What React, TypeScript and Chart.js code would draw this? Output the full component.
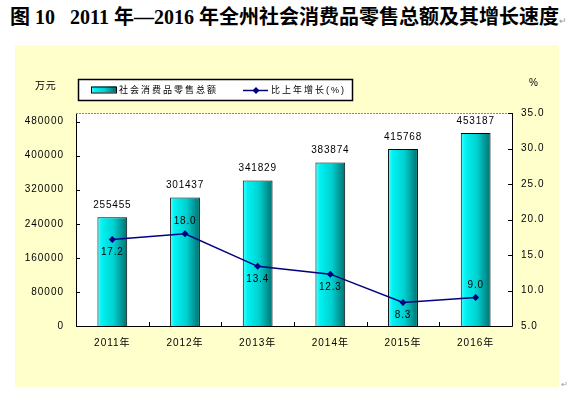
import React, { useEffect, useRef } from "react";
import { Chart, registerables } from "chart.js";

Chart.register(...registerables);

const categories = ["2011年", "2012年", "2013年", "2014年", "2015年", "2016年"];
const salesValues = [255455, 301437, 341829, 383874, 415768, 453187];
const growthValues = [17.2, 18.0, 13.4, 12.3, 8.3, 9.0];
const growthLabelAbove = [false, true, false, false, false, true];
const leftTicks = [0, 80000, 160000, 240000, 320000, 400000, 480000];
const rightTicks = [5, 10, 15, 20, 25, 30, 35];
const seriesNames = ["社会消费品零售总额", "比上年增长(%)"];
const titleText = "图 10\u00a0\u00a0 2011 年—2016 年全州社会消费品零售总额及其增长速度";

const FONT = '"Liberation Sans", "Noto Sans CJK SC", sans-serif';

function barGradient(ctx: any, x0: number, x1: number) {
  const g = ctx.createLinearGradient(x0, 0, x1, 0);
  g.addColorStop(0, "#4DFFFF");
  g.addColorStop(0.15, "#00F2F2");
  g.addColorStop(0.55, "#00D0D0");
  g.addColorStop(1, "#007070");
  return g;
}

const decorPlugin = {
  id: "decor",
  beforeDraw(chart: any) {
    chart.ctx.letterSpacing = "1px";
    const { ctx, chartArea: a } = chart;
    ctx.save();
    ctx.fillStyle = "#ffffff";
    ctx.fillRect(a.left, a.top, a.right - a.left, a.bottom - a.top);
    ctx.restore();
  },
  afterDatasetsDraw(chart: any) {
    const { ctx, chartArea: a } = chart;
    ctx.save();
    ctx.letterSpacing = "0.8px";
    // frame
    ctx.strokeStyle = "#000";
    ctx.lineWidth = 1;
    ctx.beginPath();
    ctx.moveTo(a.left + 0.5, a.top);
    ctx.lineTo(a.left + 0.5, a.bottom + 0.5);
    ctx.lineTo(a.right + 0.5, a.bottom + 0.5);
    ctx.lineTo(a.right + 0.5, a.top);
    ctx.stroke();
    ctx.strokeStyle = "#888";
    ctx.setLineDash([2, 1]);
    ctx.beginPath();
    ctx.moveTo(a.left, a.top + 0.5);
    ctx.lineTo(a.right, a.top + 0.5);
    ctx.stroke();
    ctx.setLineDash([]);
    ctx.strokeStyle = "#000";
    // ticks
    const y = chart.scales.y;
    const y1 = chart.scales.y1;
    ctx.beginPath();
    leftTicks.forEach((v) => {
      const py = Math.round(y.getPixelForValue(v)) + 0.5;
      ctx.moveTo(a.left, py);
      ctx.lineTo(a.left + 4, py);
    });
    rightTicks.forEach((v) => {
      const py = Math.round(y1.getPixelForValue(v)) + 0.5;
      ctx.moveTo(a.right, py);
      ctx.lineTo(a.right - 4, py);
    });
    const step = (a.right - a.left) / categories.length;
    for (let i = 1; i < categories.length; i++) {
      const px = Math.round(a.left + step * i) + 0.5;
      ctx.moveTo(px, a.bottom);
      ctx.lineTo(px, a.bottom - 4);
    }
    ctx.stroke();

    // labels
    ctx.font = "10px " + FONT;
    ctx.fillStyle = "#000";
    ctx.textAlign = "center";
    ctx.textBaseline = "middle";
    const barMeta = chart.getDatasetMeta(0);
    barMeta.data.forEach((el: any, i: number) => {
      ctx.fillText(String(salesValues[i]), el.x, el.y - 12);
    });
    const lineMeta = chart.getDatasetMeta(1);
    lineMeta.data.forEach((el: any, i: number) => {
      const dy = growthLabelAbove[i] ? -12 : 13;
      ctx.fillText(growthValues[i].toFixed(1), el.x, el.y + dy);
    });

    // units
    ctx.textAlign = "left";
    ctx.fillText("万元", 20, 41);
    ctx.fillText("%", 514, 38);

    // legend
    const lx = 63, ly = 34, lw = 274, lh = 21;
    ctx.fillStyle = "#fff";
    ctx.fillRect(lx, ly, lw, lh);
    ctx.lineWidth = 1.5;
    ctx.strokeStyle = "#000";
    ctx.strokeRect(lx + 0.5, ly + 0.5, lw, lh);
    const sx = 76, sy = 41.5, sw = 25, sh = 6;
    ctx.fillStyle = barGradient(ctx, sx, sx + sw);
    ctx.fillRect(sx, sy, sw, sh);
    ctx.lineWidth = 1;
    ctx.strokeRect(sx + 0.5, sy + 0.5, sw, sh);
    ctx.fillStyle = "#000";
    ctx.font = "9px " + FONT;
    ctx.letterSpacing = "2px";
    ctx.fillText(seriesNames[0], 104, ly + lh / 2 + 1);
    ctx.strokeStyle = "#000080";
    ctx.lineWidth = 1.5;
    ctx.beginPath();
    ctx.moveTo(228, ly + lh / 2 + 1);
    ctx.lineTo(253, ly + lh / 2 + 1);
    ctx.stroke();
    ctx.fillStyle = "#000080";
    ctx.beginPath();
    const dcx = 241, dcy = ly + lh / 2 + 1;
    ctx.moveTo(dcx, dcy - 3.5);
    ctx.lineTo(dcx + 3.5, dcy);
    ctx.lineTo(dcx, dcy + 3.5);
    ctx.lineTo(dcx - 3.5, dcy);
    ctx.closePath();
    ctx.fill();
    ctx.fillStyle = "#000";
    ctx.fillText(seriesNames[1], 256, ly + lh / 2 + 1);
    ctx.restore();
  },
};

export default function App() {
  const ref = useRef<HTMLCanvasElement | null>(null);
  useEffect(() => {
    if (!ref.current) return;
    const chart = new Chart(ref.current, {
      type: "bar",
      data: {
        labels: categories,
        datasets: [
          {
            type: "bar",
            label: seriesNames[0],
            data: salesValues,
            yAxisID: "y",
            order: 1,
            borderColor: "#000",
            borderWidth: 1,
            barPercentage: 0.41,
            categoryPercentage: 1,
            backgroundColor: (c: any) => {
              const ch = c.chart;
              const xs = ch.scales.x;
              if (!xs || c.dataIndex == null || !ch.chartArea) return "#00CDCD";
              const cx = xs.getPixelForValue(c.dataIndex);
              const w = ((ch.chartArea.right - ch.chartArea.left) / categories.length) * 0.41;
              return barGradient(ch.ctx, cx - w / 2, cx + w / 2);
            },
          } as any,
          {
            type: "line",
            label: seriesNames[1],
            data: growthValues,
            yAxisID: "y1",
            order: 0,
            borderColor: "#000080",
            borderWidth: 1.5,
            tension: 0,
            pointStyle: "rectRot",
            pointRadius: 3.5,
            pointBackgroundColor: "#000080",
            pointBorderColor: "#000080",
            pointBorderWidth: 0,
          } as any,
        ],
      },
      options: {
        animation: false,
        responsive: false,
        maintainAspectRatio: false,
        layout: { padding: { top: 68, left: 0, right: 0, bottom: 0 } },
        plugins: { legend: { display: false }, tooltip: { enabled: false } },
        scales: {
          x: {
            grid: { display: false, drawTicks: false },
            border: { display: false },
            ticks: { font: { size: 10, family: FONT }, color: "#000", padding: 11, maxRotation: 0 },
            afterFit: (s: any) => { s.height = 61; },
          },
          y: {
            position: "left",
            min: 0,
            max: 500000,
            grid: { display: false, drawTicks: false },
            border: { display: false },
            afterBuildTicks: (s: any) => { s.ticks = leftTicks.map((v) => ({ value: v })); },
            ticks: { font: { size: 10, family: FONT }, color: "#000", padding: 12, callback: (v: any) => String(v) },
            afterFit: (s: any) => { s.width = 61; },
          },
          y1: {
            position: "right",
            min: 5,
            max: 35,
            grid: { display: false, drawTicks: false },
            border: { display: false },
            afterBuildTicks: (s: any) => { s.ticks = rightTicks.map((v) => ({ value: v })); },
            ticks: { font: { size: 10, family: FONT }, color: "#000", padding: 9, callback: (v: any) => Number(v).toFixed(1) },
            afterFit: (s: any) => { s.width = 47; },
          },
        },
      },
      plugins: [decorPlugin],
    });
    return () => chart.destroy();
  }, []);

  return (
    <div style={{ position: "absolute", left: 0, top: 0, width: 568, height: 393, background: "#fff", overflow: "hidden" }}>
      <div
        style={{
          position: "absolute",
          left: 10,
          top: 4,
          whiteSpace: "nowrap",
          fontFamily: '"Liberation Serif", "Noto Sans CJK SC", serif',
          fontWeight: "bold",
          fontSize: 20,
          lineHeight: "26px",
          color: "#000",
        }}
      >
        {titleText}
        <span style={{ fontSize: 9, color: "#999", fontWeight: "normal" }}>↵</span>
      </div>
      <div style={{ position: "absolute", left: 15, top: 45, width: 544, height: 342, background: "#FFFFCC" }}>
        <canvas ref={ref} width={544} height={342} style={{ display: "block" }} />
      </div>
      <div style={{ position: "absolute", left: 561, top: 380, fontSize: 8, color: "#999", fontFamily: FONT }}>↵</div>
    </div>
  );
}
